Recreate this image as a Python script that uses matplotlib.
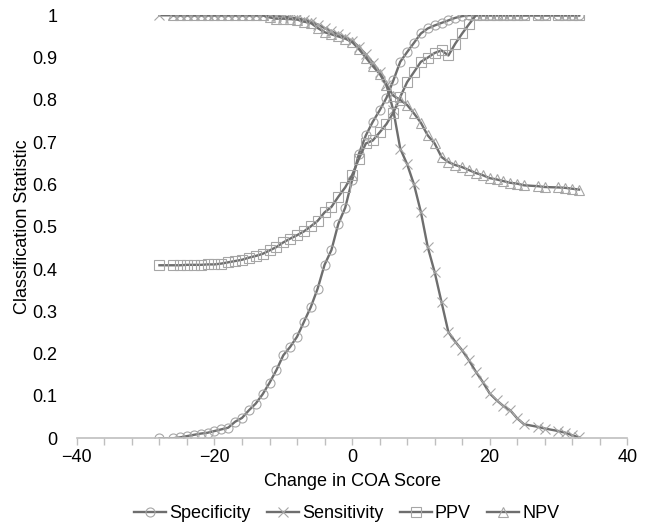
import matplotlib
matplotlib.use('Agg')
from matplotlib import pyplot as plt
from matplotlib.ticker import MultipleLocator

# threshold values (change in COA score)
scores = [-28] + list(range(-26, 26)) + [27, 28, 30, 31, 32, 33]

specificity = [0.0,
	0.0, 0.002, 0.005, 0.008, 0.011, 0.013, 0.017, 0.021, 0.025, 0.039,
	0.048, 0.066, 0.082, 0.104, 0.131, 0.161, 0.196, 0.216, 0.240, 0.275,
	0.310, 0.354, 0.410, 0.445, 0.507, 0.545, 0.610, 0.673, 0.716, 0.748,
	0.775, 0.805, 0.846, 0.890, 0.913, 0.935, 0.957, 0.969, 0.976, 0.982,
	0.988, 0.994, 0.998, 1.0, 1.0, 1.0, 1.0, 1.0, 1.0, 1.0, 1.0, 1.0,
	1.0, 1.0, 1.0, 1.0, 1.0, 1.0]

sensitivity = [1.0,
	1.0, 1.0, 1.0, 1.0, 1.0, 1.0, 1.0, 1.0, 1.0, 1.0,
	1.0, 1.0, 1.0, 1.0, 1.0, 0.998, 0.997, 0.995, 0.993, 0.99,
	0.985, 0.978, 0.970, 0.962, 0.955, 0.948, 0.940, 0.925, 0.908, 0.888,
	0.866, 0.835, 0.775, 0.685, 0.648, 0.600, 0.535, 0.452, 0.393, 0.322,
	0.251, 0.228, 0.208, 0.184, 0.157, 0.133, 0.106, 0.090, 0.076, 0.066,
	0.047, 0.033, 0.027, 0.023, 0.017, 0.013, 0.007, 0.002]

ppv = [0.409,
	0.409, 0.409, 0.410, 0.410, 0.410, 0.411, 0.411, 0.413, 0.416, 0.419,
	0.422, 0.427, 0.431, 0.436, 0.444, 0.452, 0.463, 0.472, 0.480, 0.489,
	0.501, 0.514, 0.534, 0.547, 0.571, 0.593, 0.622, 0.661, 0.697, 0.704,
	0.723, 0.743, 0.770, 0.807, 0.842, 0.866, 0.890, 0.900, 0.911, 0.917,
	0.905, 0.933, 0.957, 0.979, 1.0, 1.0, 1.0, 1.0, 1.0, 1.0,
	1.0, 1.0, 1.0, 1.0, 1.0, 1.0, 1.0, 1.0]

# NPV undefined at the lowest threshold
npv = [None,
	1.0, 1.0, 1.0, 1.0, 1.0, 1.0, 1.0, 1.0, 1.0, 1.0,
	1.0, 1.0, 1.0, 1.0, 0.995, 0.992, 0.992, 0.991, 0.990, 0.985,
	0.982, 0.970, 0.960, 0.955, 0.950, 0.945, 0.937, 0.920, 0.900, 0.880,
	0.862, 0.835, 0.810, 0.800, 0.788, 0.768, 0.746, 0.716, 0.697, 0.665,
	0.653, 0.646, 0.641, 0.634, 0.627, 0.622, 0.615, 0.612, 0.608, 0.604,
	0.602, 0.598, 0.596, 0.594, 0.593, 0.592, 0.590, 0.588]

plt.rcParams['font.family'] = ['Liberation Sans', 'DejaVu Sans']

fig = plt.figure(figsize=(6.46, 5.28), dpi=100)
ax = fig.add_axes([0.119, 0.170, 0.852, 0.801])

line_col = '#6e6e6e'
mark_col = '#a6a6a6'
style = dict(color=line_col, lw=1.7, markersize=6.5, markerfacecolor='none',
	markeredgecolor=mark_col, markeredgewidth=0.8)

ax.plot(scores, specificity, marker='o', label='Specificity', **style)
ax.plot(scores, sensitivity, marker='x', label='Sensitivity', **style)
ax.plot(scores, ppv, marker='s', label='PPV', **style)
npv_x = [s for s, v in zip(scores, npv) if v is not None]
npv_y = [v for v in npv if v is not None]
ax.plot(npv_x, npv_y, marker='^', label='NPV', **style)

ax.set_xlim(-40, 40)
ax.set_ylim(0, 1)
ax.xaxis.set_major_locator(MultipleLocator(20))
ax.xaxis.set_minor_locator(MultipleLocator(4))
ax.yaxis.set_major_locator(MultipleLocator(0.1))
ax.yaxis.set_major_formatter(plt.FuncFormatter(lambda v, p: '%g' % round(v, 1)))

for side in ['top', 'right', 'left']:
	ax.spines[side].set_visible(False)
ax.spines['bottom'].set_color('#bfbfbf')
ax.spines['bottom'].set_linewidth(1.2)
ax.tick_params(axis='x', which='both', direction='out', color='#bfbfbf', width=1)
ax.tick_params(axis='x', which='major', length=5, labelsize=13, pad=3)
ax.tick_params(axis='x', which='minor', length=5)
ax.tick_params(axis='y', length=0, labelsize=13, pad=14)

ax.set_xlabel('Change in COA Score', fontsize=13, labelpad=5)
ax.set_ylabel('Classification Statistic', fontsize=13, labelpad=1)

ax.legend(loc='upper center', bbox_to_anchor=(0.49, -0.12), ncol=4, frameon=False,
	fontsize=13, handlelength=1.8, handletextpad=0.15, columnspacing=0.9)

plt.savefig('out.png', dpi=100)
